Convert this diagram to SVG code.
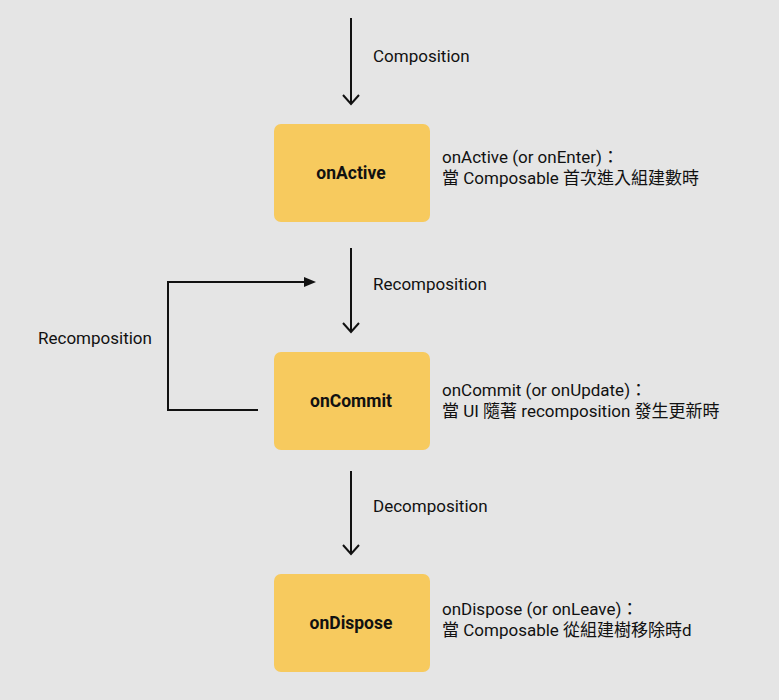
<svg xmlns="http://www.w3.org/2000/svg" width="779" height="700" viewBox="0 0 779 700">
<style>
.node{fill:#f7ca5e}
.nt{font-family:Roboto,"Noto Sans CJK TC",sans-serif;font-size:17.5px;font-weight:bold;fill:#111;text-anchor:middle}
.t{font-family:Roboto,"Noto Sans CJK TC",sans-serif;font-size:17px;fill:#111}
.c{stroke:#111;stroke-width:2;fill:none}
</style>
<rect width="779" height="700" fill="#e5e5e5"/>
<g id="connectors">
<line class="c" x1="351" y1="18" x2="351" y2="104"/>
<path class="c" d="M343,95 L351,104 L359,95"/>
<line class="c" x1="351" y1="248" x2="351" y2="332"/>
<path class="c" d="M343,323 L351,332 L359,323"/>
<line class="c" x1="351" y1="471" x2="351" y2="554"/>
<path class="c" d="M343,545 L351,554 L359,545"/>
<path class="c" d="M258,410 L168,410 L168,282 L304,282"/>
<path d="M304,277 L316,282 L304,287 Z" fill="#111"/>
<text class="t" x="373" y="62">Composition</text>
<text class="t" x="373" y="290">Recomposition</text>
<text class="t" x="373" y="512">Decomposition</text>
<text class="t" x="38" y="344">Recomposition</text>
</g>
<g id="onActive">
<rect class="node" x="274" y="124" width="156" height="98" rx="7"/>
<text class="nt" x="351" y="179">onActive</text>
<text class="t" x="442" y="163">onActive (or onEnter)：</text>
<text class="t" x="442" y="184">當 Composable 首次進入組建數時</text>
</g>
<g id="onCommit">
<rect class="node" x="274" y="352" width="156" height="98" rx="7"/>
<text class="nt" x="351" y="407">onCommit</text>
<text class="t" x="442" y="396">onCommit (or onUpdate)：</text>
<text class="t" x="442" y="417">當 UI 隨著 recomposition 發生更新時</text>
</g>
<g id="onDispose">
<rect class="node" x="274" y="574" width="156" height="98" rx="7"/>
<text class="nt" x="351" y="629">onDispose</text>
<text class="t" x="442" y="615">onDispose (or onLeave)：</text>
<text class="t" x="442" y="636">當 Composable 從組建樹移除時d</text>
</g>
</svg>
